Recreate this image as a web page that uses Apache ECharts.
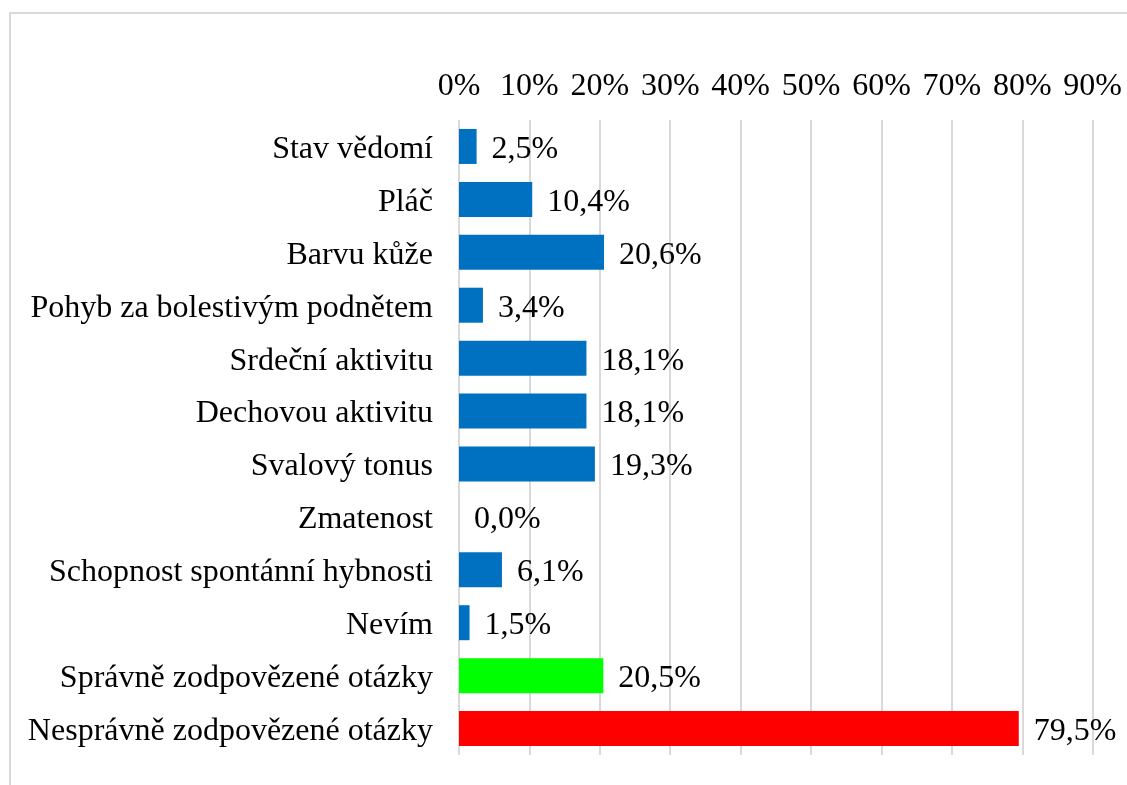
<!DOCTYPE html>
<html>
<head>
<meta charset="utf-8">
<script src="https://cdn.jsdelivr.net/npm/echarts@6/dist/echarts.min.js"></script>
<style>
html,body{margin:0;padding:0;background:#fff;}
#chart{width:1127px;height:785px;}
</style>
</head>
<body>
<div id="chart"></div>
<script>
var categories = [
  "Stav vědomí",
  "Pláč",
  "Barvu kůže",
  "Pohyb za bolestivým podnětem",
  "Srdeční aktivitu",
  "Dechovou aktivitu",
  "Svalový tonus",
  "Zmatenost",
  "Schopnost spontánní hybnosti",
  "Nevím",
  "Správně zodpovězené otázky",
  "Nesprávně zodpovězené otázky"
];
var values = [2.5, 10.4, 20.6, 3.4, 18.1, 18.1, 19.3, 0.0, 6.1, 1.5, 20.5, 79.5];
var barColors = ["#0070C0","#0070C0","#0070C0","#0070C0","#0070C0","#0070C0","#0070C0","#0070C0","#0070C0","#0070C0","#00FF00","#FF0000"];
var tickValues = [0, 10, 20, 30, 40, 50, 60, 70, 80, 90];

var FONT = '"Liberation Serif", "Times New Roman", serif';
var FS = 32;

var chart = echarts.init(document.getElementById('chart'));
var seriesData = values.map(function (v, i) {
  return { value: v, itemStyle: { color: barColors[i] } };
});

chart.setOption({
  animation: false,
  backgroundColor: '#fff',
  graphic: [{
    type: 'rect',
    silent: true,
    shape: { x: 10, y: 13, width: 1300, height: 1000 },
    style: { fill: 'none', stroke: '#d9d9d9', lineWidth: 2 }
  }],
  grid: { left: 459, right: 34.3, top: 120, bottom: 30, containLabel: false },
  xAxis: {
    type: 'value',
    position: 'top',
    min: tickValues[0],
    max: tickValues[tickValues.length - 1],
    interval: 10,
    axisLine: { show: false },
    axisTick: { show: false },
    splitLine: { show: true, lineStyle: { color: '#d9d9d9', width: 2 } },
    axisLabel: {
      margin: 17,
      color: '#000',
      fontFamily: FONT,
      fontSize: FS,
      formatter: function (v) { return v + '%'; }
    }
  },
  yAxis: {
    type: 'category',
    inverse: true,
    data: categories,
    axisLine: { show: false },
    axisTick: { show: false },
    splitLine: { show: false },
    axisLabel: {
      margin: 26,
      color: '#000',
      fontFamily: FONT,
      fontSize: FS,
      formatter: function (v) { return '{a|' + v + '}'; },
      rich: {
        a: { fontFamily: FONT, fontSize: FS, color: '#000', padding: [6, 0, 0, 0] }
      }
    }
  },
  series: [{
    type: 'bar',
    data: seriesData,
    barWidth: 35,
    label: {
      show: true,
      position: 'right',
      distance: 15,
      offset: [0, 3],
      color: '#000',
      fontFamily: FONT,
      fontSize: FS,
      formatter: function (p) { return p.value.toFixed(1).replace('.', ',') + '%'; }
    }
  }]
});
</script>
</body>
</html>
